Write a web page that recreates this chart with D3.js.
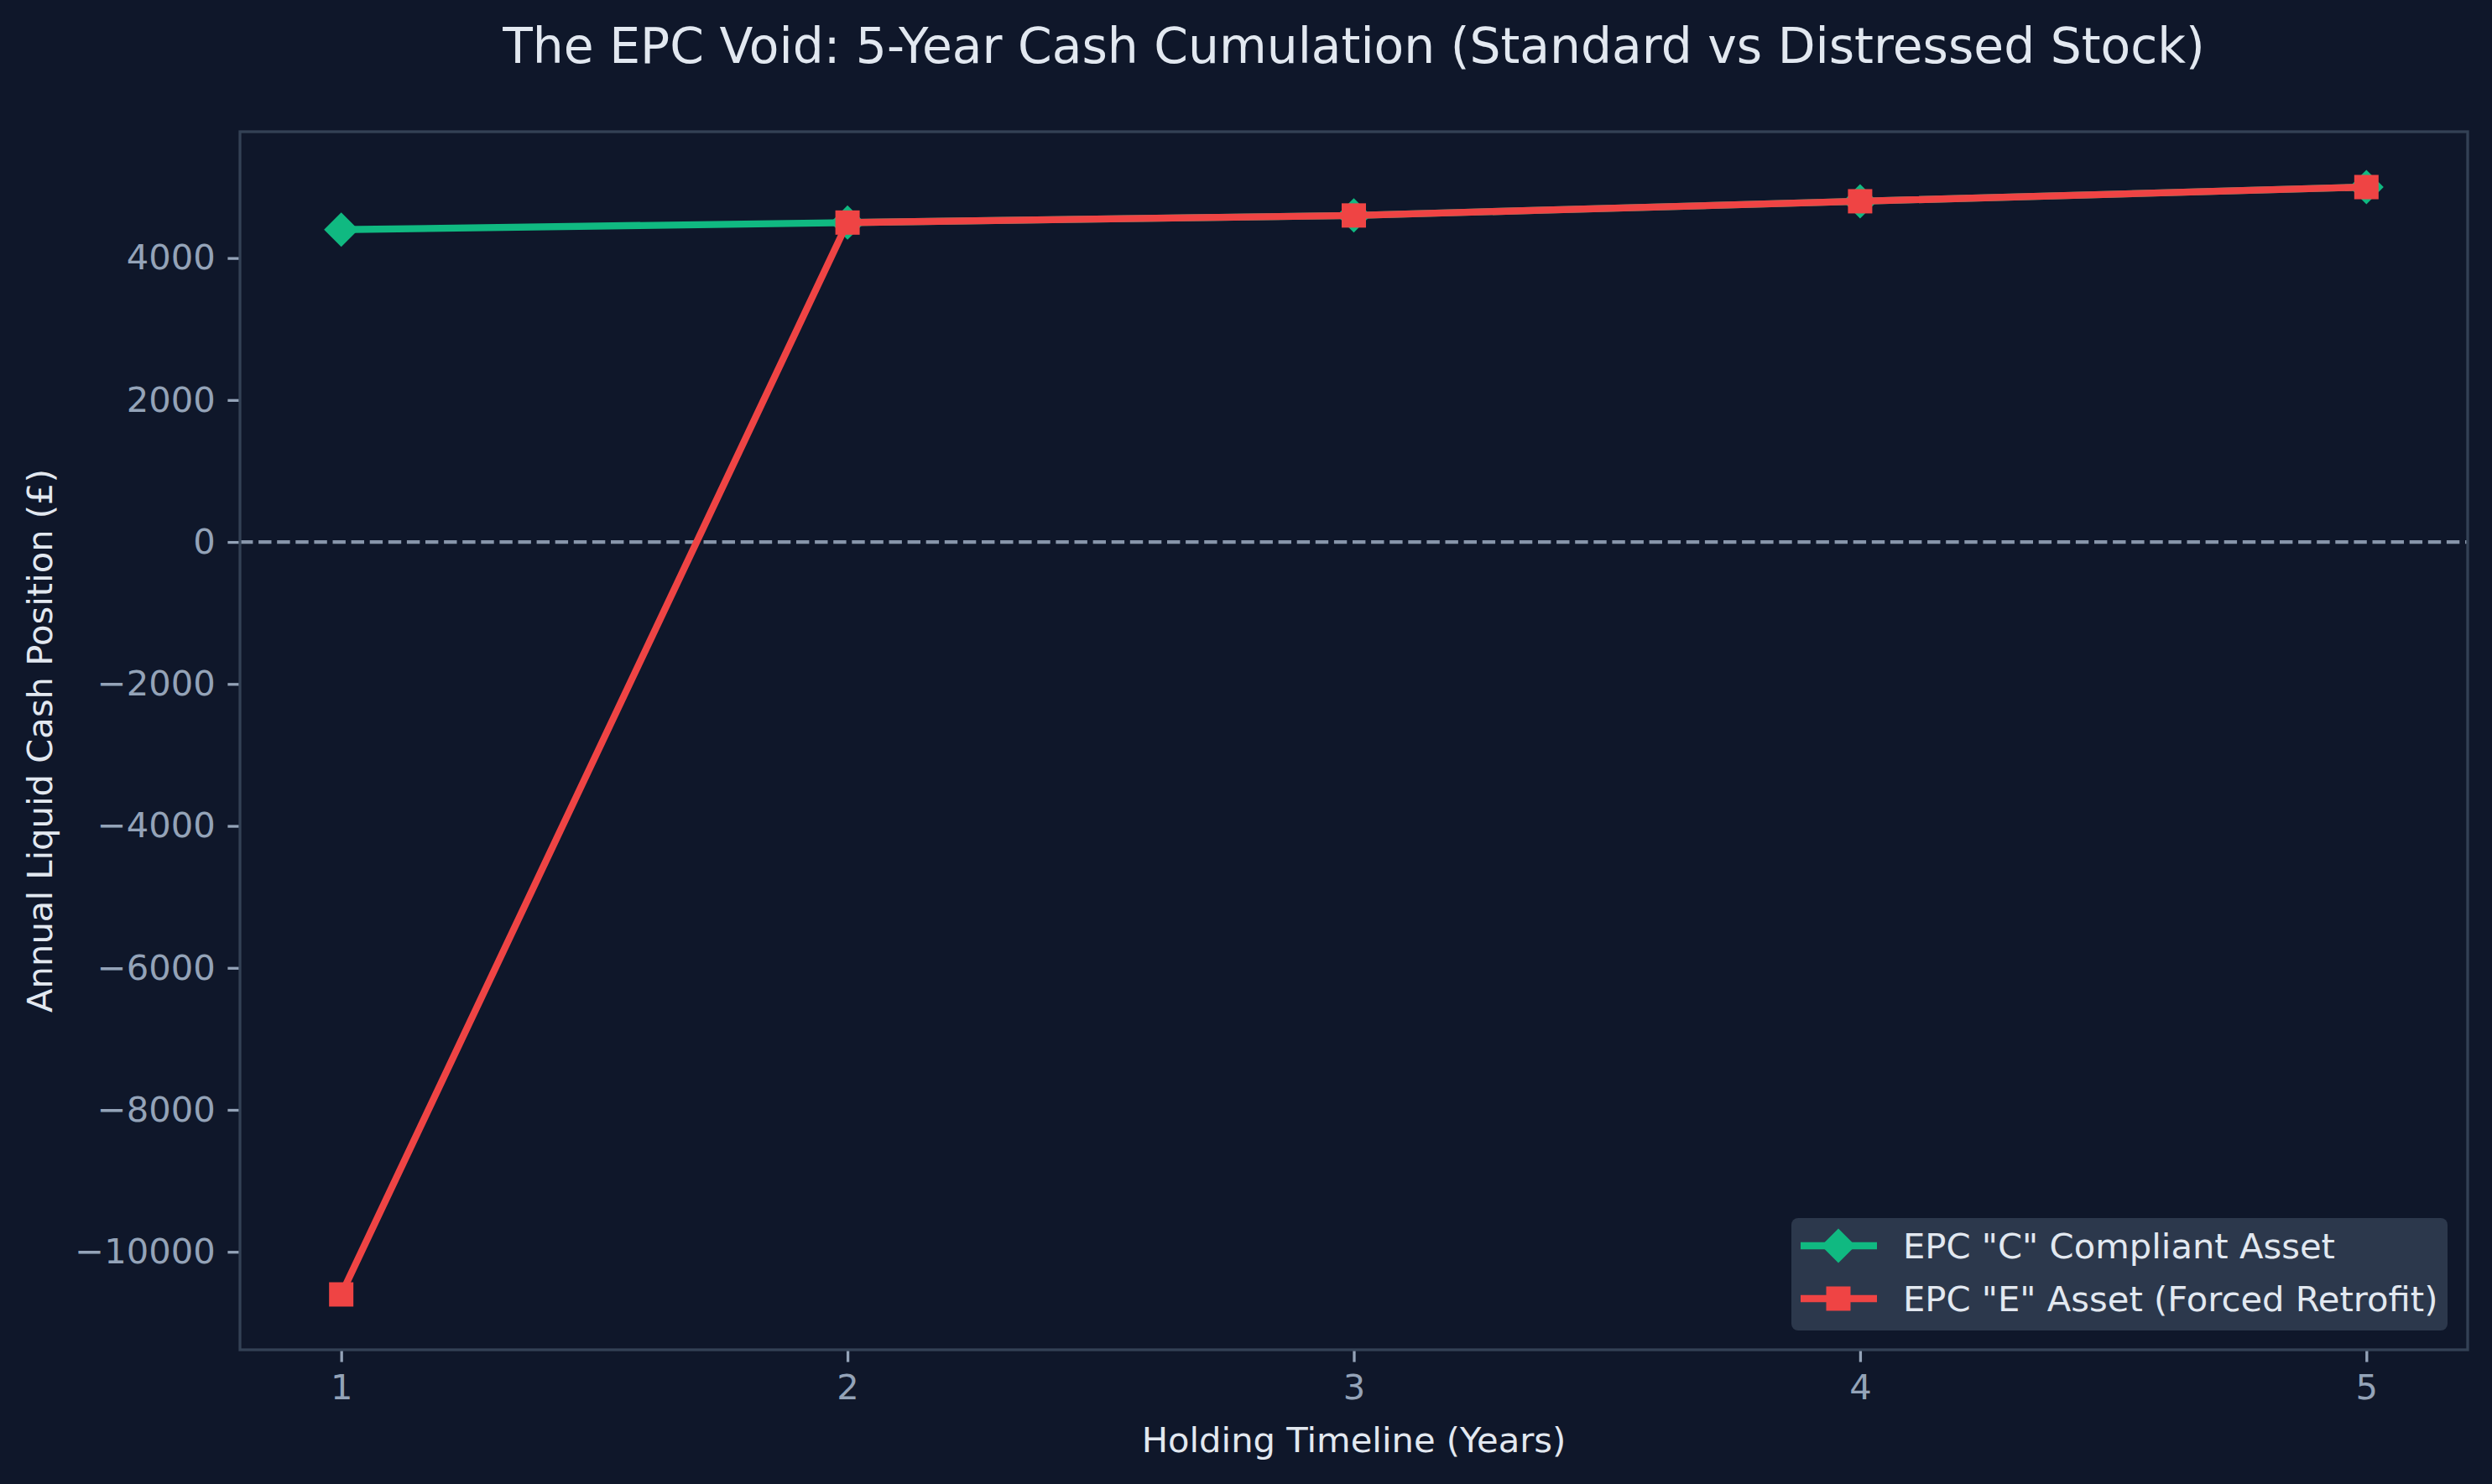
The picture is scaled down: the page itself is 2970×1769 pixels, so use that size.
<!DOCTYPE html>
<html>
<head>
<meta charset="utf-8">
<script src="https://cdn.jsdelivr.net/npm/d3@7"></script>
<style>
  html, body { margin: 0; padding: 0; background: #0f172a; }
  svg text { font-family: "DejaVu Sans", sans-serif; }
</style>
</head>
<body>
<svg id="chart"></svg>
<script>
// data
const years = [1, 2, 3, 4, 5];
const compliant = [4400, 4500, 4600, 4800, 5000];
const retrofit = [-10600, 4500, 4600, 4800, 5000];
const yTicks = [-10000, -8000, -6000, -4000, -2000, 0, 2000, 4000];
const xTicks = [1, 2, 3, 4, 5];
const seriesNames = ['EPC "C" Compliant Asset', 'EPC "E" Asset (Forced Retrofit)'];

const width = 2970;
const height = 1769;
const box = { left: 286, right: 2941, top: 157, bottom: 1609 };

const bg = '#0f172a';
const spineColor = '#334155';
const tickColor = '#94a3b8';
const textColor = '#e2e8f0';
const green = '#10b981';
const red = '#ef4444';

const svg = d3.select('#chart')
  .attr('width', width)
  .attr('height', height);

svg.append('rect')
  .attr('width', width)
  .attr('height', height)
  .attr('fill', bg);

// matplotlib style 5% margins
const xExt = d3.extent(years);
const xPad = (xExt[1] - xExt[0]) * 0.05;
const x = d3.scaleLinear()
  .domain([xExt[0] - xPad, xExt[1] + xPad])
  .range([box.left, box.right]);

const yExt = d3.extent(compliant.concat(retrofit));
const yPad = (yExt[1] - yExt[0]) * 0.05;
const y = d3.scaleLinear()
  .domain([yExt[0] - yPad, yExt[1] + yPad])
  .range([box.bottom, box.top]);

const fmt = (d) => (d < 0 ? '\u2212' + Math.abs(d) : String(d));

// zero line
svg.append('line')
  .attr('x1', box.left)
  .attr('x2', box.right)
  .attr('y1', y(0))
  .attr('y2', y(0))
  .attr('stroke', tickColor)
  .attr('stroke-width', 4.2)
  .attr('stroke-dasharray', '15.4 6.7')
  .attr('opacity', 0.9);

// axes
const yAxis = svg.append('g')
  .attr('transform', `translate(${box.left},0)`)
  .call(d3.axisLeft(y).tickValues(yTicks).tickFormat(fmt).tickSize(14.6).tickPadding(14.6));

const xAxis = svg.append('g')
  .attr('transform', `translate(0,${box.bottom})`)
  .call(d3.axisBottom(x).tickValues(xTicks).tickFormat(d3.format('d')).tickSize(14.6).tickPadding(14.6));

[xAxis, yAxis].forEach((g) => {
  g.select('.domain').remove();
  g.selectAll('.tick line').attr('stroke', tickColor).attr('stroke-width', 3.3);
  g.selectAll('.tick text')
    .attr('fill', tickColor)
    .attr('font-size', 41.7)
    .attr('font-family', '"DejaVu Sans", sans-serif');
});

// spines
svg.append('rect')
  .attr('x', box.left)
  .attr('y', box.top)
  .attr('width', box.right - box.left)
  .attr('height', box.bottom - box.top)
  .attr('fill', 'none')
  .attr('stroke', spineColor)
  .attr('stroke-width', 3.3);

// series
const series = [
  { name: seriesNames[0], values: compliant, color: green, shape: 'diamond' },
  { name: seriesNames[1], values: retrofit, color: red, shape: 'square' }
];

const line = d3.line()
  .x((d, i) => x(years[i]))
  .y((d) => y(d));

const squareSym = d3.symbol().type(d3.symbolSquare).size(29 * 29);

function marker(sel, shape, color) {
  sel.append('path')
    .attr('d', squareSym())
    .attr('transform', shape === 'diamond' ? 'rotate(45)' : null)
    .attr('fill', color);
}

series.forEach((s) => {
  svg.append('path')
    .datum(s.values)
    .attr('d', line)
    .attr('fill', 'none')
    .attr('stroke', s.color)
    .attr('stroke-width', 8.3)
    .attr('stroke-linejoin', 'round')
    .attr('stroke-linecap', 'square');

  svg.selectAll(null)
    .data(s.values)
    .enter()
    .append('g')
    .attr('transform', (d, i) => `translate(${x(years[i])},${y(d)})`)
    .each(function() { marker(d3.select(this), s.shape, s.color); });
});

// title and axis labels
svg.append('text')
  .attr('x', (box.left + box.right) / 2)
  .attr('y', 75)
  .attr('text-anchor', 'middle')
  .attr('fill', textColor)
  .attr('font-size', 58.3)
  .text('The EPC Void: 5-Year Cash Cumulation (Standard vs Distressed Stock)');

svg.append('text')
  .attr('x', (box.left + box.right) / 2)
  .attr('y', 1731)
  .attr('text-anchor', 'middle')
  .attr('fill', textColor)
  .attr('font-size', 41.7)
  .text('Holding Timeline (Years)');

svg.append('text')
  .attr('transform', `translate(62,${(box.top + box.bottom) / 2}) rotate(-90)`)
  .attr('text-anchor', 'middle')
  .attr('fill', textColor)
  .attr('font-size', 41.7)
  .text('Annual Liquid Cash Position (£)');

// legend
const legend = svg.append('g').attr('transform', 'translate(2135,1452)');
legend.append('rect')
  .attr('width', 782)
  .attr('height', 134)
  .attr('rx', 8)
  .attr('fill', '#2c384c');

series.forEach((s, i) => {
  const row = legend.append('g').attr('transform', `translate(0,${33 + i * 63})`);
  row.append('line')
    .attr('x1', 11)
    .attr('x2', 102)
    .attr('stroke', s.color)
    .attr('stroke-width', 8.3);
  const m = row.append('g').attr('transform', 'translate(56,0)');
  marker(m, s.shape, s.color);
  row.append('text')
    .attr('x', 133)
    .attr('y', 15)
    .attr('fill', textColor)
    .attr('font-size', 41.7)
    .text(s.name);
});
</script>
</body>
</html>
